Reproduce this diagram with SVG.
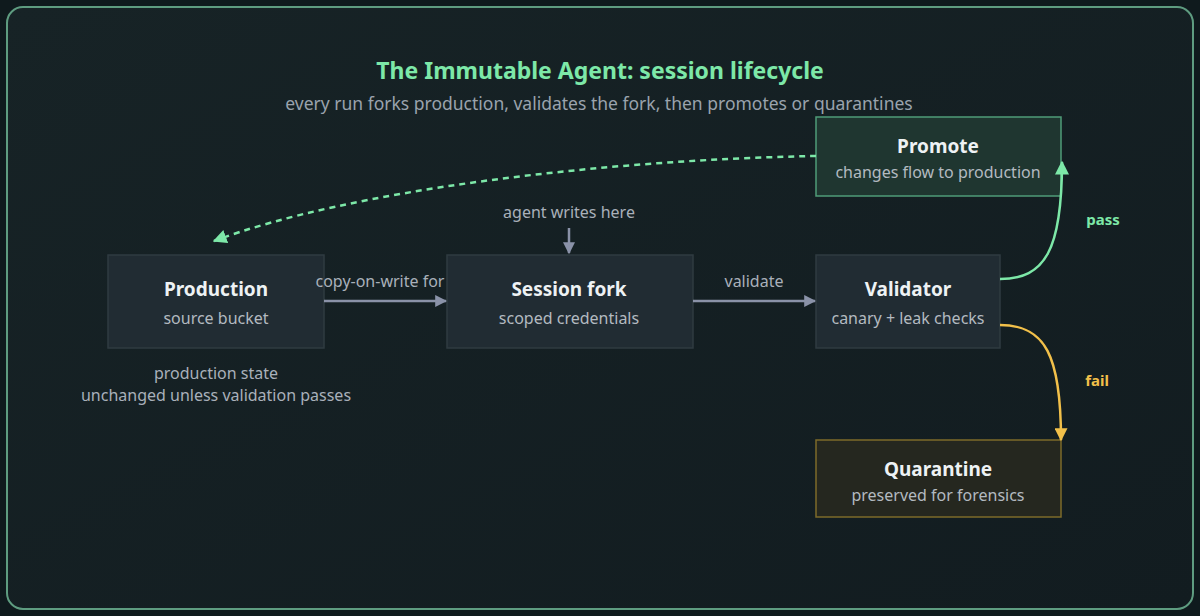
<svg xmlns="http://www.w3.org/2000/svg" width="1200" height="616" viewBox="0 0 1200 616">
<defs>
<linearGradient id="bg" x1="0" y1="0" x2="1" y2="1">
<stop offset="0" stop-color="#172326"/>
<stop offset="1" stop-color="#121c20"/>
</linearGradient>
<marker id="ag" viewBox="0 0 10 10" refX="9" refY="5" markerWidth="12" markerHeight="12" markerUnits="userSpaceOnUse" orient="auto"><path d="M0,0 L10,5 L0,10 z" fill="#8a92a8"/></marker>
<marker id="agr" viewBox="0 0 10 10" refX="9" refY="5" markerWidth="14" markerHeight="14" markerUnits="userSpaceOnUse" orient="auto"><path d="M0,0 L10,5 L0,10 z" fill="#7de8a8"/></marker>
<marker id="ay" viewBox="0 0 10 10" refX="9" refY="5" markerWidth="13" markerHeight="13" markerUnits="userSpaceOnUse" orient="auto"><path d="M0,0 L10,5 L0,10 z" fill="#f2c04a"/></marker>
</defs>
<style>
text{font-family:"Noto Sans","Liberation Sans",sans-serif;text-anchor:middle}
.title{font-size:23px;font-weight:700;fill:#7de8a8}
.sub{font-size:17.5px;fill:#9aa3ad}
.nt{font-size:19px;font-weight:700;fill:#eef2f4}
.ns{font-size:16px;fill:#b3bac0}
.lbl{font-size:16px;fill:#a9b0ba}
.box{fill:#212c33;stroke:#2f3b41;stroke-width:1.5}
.g{fill:#1f3630;stroke:#4f9c78;stroke-width:1.5}
.y{fill:#25271f;stroke:#7d6b2a;stroke-width:1.5}
.e{fill:none;stroke:#8a92a8;stroke-width:2.5}
</style>
<rect x="0" y="0" width="1200" height="616" fill="#0f1a1d"/>
<rect x="7" y="7" width="1186" height="602" rx="16" fill="url(#bg)" stroke="#5e9c80" stroke-width="2"/>
<text class="title" x="600" y="79">The Immutable Agent: session lifecycle</text>
<text class="sub" x="599" y="110">every run forks production, validates the fork, then promotes or quarantines</text>
<g id="production"><rect class="box" x="108" y="255" width="216" height="93"/><text class="nt" x="216" y="296">Production</text><text class="ns" x="216" y="324">source bucket</text></g>
<g id="session-fork"><rect class="box" x="447" y="255" width="246" height="93"/><text class="nt" x="569" y="296">Session fork</text><text class="ns" x="569" y="324">scoped credentials</text></g>
<g id="validator"><rect class="box" x="816" y="255" width="184" height="93"/><text class="nt" x="908" y="296">Validator</text><text class="ns" x="908" y="324">canary + leak checks</text></g>
<g id="promote"><rect class="g" x="816" y="117" width="245" height="79"/><text class="nt" x="938" y="153">Promote</text><text class="ns" x="938" y="178">changes flow to production</text></g>
<g id="quarantine"><rect class="y" x="816" y="440" width="245" height="77"/><text class="nt" x="938" y="476">Quarantine</text><text class="ns" x="938" y="501">preserved for forensics</text></g>
<g id="note"><text class="lbl" x="216" y="379">production state</text><text class="lbl" x="216" y="401">unchanged unless validation passes</text></g>
<g id="connectors">
<path class="e" d="M324,301 L446,301" marker-end="url(#ag)"/>
<text class="lbl" x="380" y="287">copy-on-write for</text>
<path class="e" d="M693,301 L815,301" marker-end="url(#ag)"/>
<text class="lbl" x="754" y="287">validate</text>
<text class="lbl" x="569" y="218">agent writes here</text>
<path class="e" d="M569,228 L569,253" stroke-width="2" marker-end="url(#ag)"/>
<path d="M1000,279 C1045,279 1062,250 1062,162" fill="none" stroke="#7de8a8" stroke-width="2.5" marker-end="url(#agr)"/>
<text x="1103" y="225" style="font-size:15px;font-weight:700;fill:#7de8a8">pass</text>
<path d="M1000,325 C1045,325 1061,355 1061,440" fill="none" stroke="#f2c04a" stroke-width="2.5" marker-end="url(#ay)"/>
<text x="1097" y="386" style="font-size:15px;font-weight:700;fill:#f2c04a">fail</text>
<path d="M816,156 C600,160 350,190 214,241" fill="none" stroke="#7de8a8" stroke-width="2.5" stroke-dasharray="6 5" marker-end="url(#agr)"/>
</g>
</svg>
